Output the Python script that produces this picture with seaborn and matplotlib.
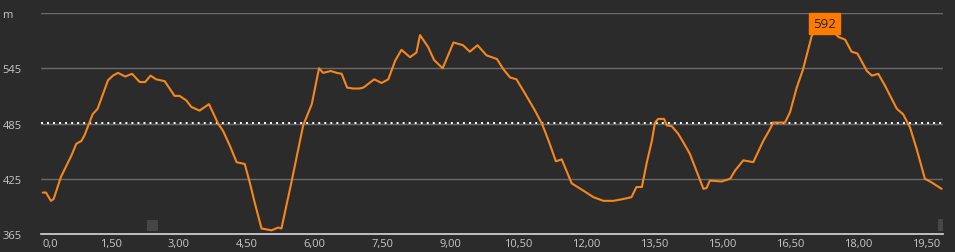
import matplotlib
matplotlib.use("Agg")
import matplotlib.pyplot as plt
import seaborn as sns
import pandas as pd
from matplotlib.patches import Rectangle

distance_km = [0.00, 0.07, 0.18, 0.24, 0.40, 0.63, 0.74, 0.85, 0.92, 1.10, 1.21, 1.44, 1.55, 1.66,
               1.82, 1.97, 2.14, 2.26, 2.38, 2.50, 2.69, 2.91, 3.02, 3.17, 3.28, 3.46, 3.67, 3.87,
               3.98, 4.13, 4.28, 4.46, 4.57, 4.68, 4.83, 5.05, 5.20, 5.27, 5.49, 5.75, 5.94, 6.10,
               6.19, 6.36, 6.49, 6.60, 6.72, 6.85, 7.00, 7.08, 7.32, 7.48, 7.63, 7.78, 7.92, 8.11,
               8.25, 8.33, 8.51, 8.64, 8.83, 8.95, 9.07, 9.28, 9.43, 9.60, 9.80, 10.03, 10.17, 10.32,
               10.46, 10.68, 10.87, 11.03, 11.18, 11.33, 11.46, 11.68, 11.94, 12.16, 12.38, 12.60,
               12.82, 13.00, 13.11, 13.23, 13.34, 13.45, 13.52, 13.59, 13.72, 13.78, 13.89, 14.03,
               14.14, 14.29, 14.48, 14.59, 14.66, 14.73, 14.99, 15.18, 15.29, 15.47, 15.58, 15.69,
               15.91, 16.06, 16.13, 16.39, 16.50, 16.65, 16.79, 16.98, 17.12, 17.25, 17.40, 17.57,
               17.72, 17.86, 17.99, 18.20, 18.31, 18.45, 18.60, 18.86, 19.00, 19.15, 19.30, 19.48,
               19.63, 19.85]
elevation_m = [410, 410, 401, 403, 427, 450, 463, 466, 472, 495, 501, 532, 537, 540,
               536, 539, 530, 530, 537, 533, 531, 515, 515, 510, 503, 499, 506, 485,
               477, 461, 443, 441, 421, 399, 371, 369, 372, 371, 421, 483, 506, 545,
               540, 542, 540, 539, 524, 523, 523, 524, 533, 529, 533, 553, 565, 557,
               562, 581, 568, 554, 545, 559, 573, 570, 563, 570, 559, 555, 544, 535,
               533, 515, 499, 484, 465, 444, 446, 420, 412, 405, 401, 401,
               403, 405, 416, 416, 443, 466, 486, 490, 490, 483, 482, 474,
               465, 452, 428, 414, 415, 423, 422, 425, 434, 445, 444, 443,
               466, 479, 486, 486, 497, 524, 544, 580, 590, 592, 588, 579,
               576, 563, 561, 542, 537, 539, 526, 501, 495, 481, 457, 425,
               421, 414]

y_ticks = [365, 425, 485, 545, 605]
y_tick_labels = ["365", "425", "485", "545", "m"]
x_ticks = [0.0, 1.5, 3.0, 4.5, 6.0, 7.5, 9.0, 10.5, 12.0, 13.5, 15.0, 16.5, 18.0, 19.5]
x_tick_labels = ["0,0", "1,50", "3,00", "4,50", "6,00", "7,50", "9,00", "10,50", "12,00",
                 "13,50", "15,00", "16,50", "18,00", "19,50"]
average_m = 486
max_label = "592"

df = pd.DataFrame({"distance": distance_km, "elevation": elevation_m})

sns.set_style("dark")
plt.rcParams["font.family"] = ["Open Sans", "DejaVu Sans"]

bg = "#2b2b2b"
W, H = 955, 253
fig = plt.figure(figsize=(W / 100, H / 100), dpi=100, facecolor=bg)
ax = fig.add_axes([41 / W, 18 / H, (943 - 41) / W, (235 - 14) / H])
ax.set_facecolor(bg)

for yv in y_ticks[1:]:
    ax.axhline(yv, color="#6a6a6a", lw=1.0, zorder=1)
ax.axhline(average_m, color="#ffffff", lw=1.4, ls=(0, (1, 2.1)), zorder=2)

sns.lineplot(data=df, x="distance", y="elevation", ax=ax, color="#f7871c", lw=1.5,
             zorder=3, estimator=None, sort=False)

ax.set_xlim(-0.04, 19.88)
ax.set_ylim(365, 605)
for s in ["top", "right", "left"]:
    ax.spines[s].set_visible(False)
ax.spines["bottom"].set_color("#d8d8d8")
ax.spines["bottom"].set_linewidth(1.2)
ax.grid(False)

ax.set_yticks(y_ticks)
ax.set_yticklabels(y_tick_labels)
ax.set_xticks(x_ticks)
ax.set_xticklabels(x_tick_labels)
ax.tick_params(axis="y", length=0, pad=27.5, labelsize=8, labelcolor="#c8c8c8")
ax.tick_params(axis="x", length=0, pad=3, labelsize=8, labelcolor="#c8c8c8")
for lab in ax.get_yticklabels():
    lab.set_horizontalalignment("left")
xl = ax.get_xticklabels()
xl[0].set_horizontalalignment("left")
ax.set_xlabel("")
ax.set_ylabel("")

imax = elevation_m.index(max(elevation_m))
ax.text(distance_km[imax] + 0.02, elevation_m[imax] + 1.5, max_label, ha="center", va="center",
        fontsize=9.5, color="#222222", zorder=5,
        bbox=dict(boxstyle="square,pad=0.3", fc="#ff7a00", ec="#ff7a00"))

# range selector handles
fig.patches.append(Rectangle((147 / W, (H - 232) / H), 11 / W, 11 / H,
                             transform=fig.transFigure, fc="#464646", ec="none"))
fig.patches.append(Rectangle((938 / W, (H - 232) / H), 5 / W, 12 / H,
                             transform=fig.transFigure, fc="#464646", ec="none"))

fig.savefig("out.png", dpi=100, facecolor=bg)
